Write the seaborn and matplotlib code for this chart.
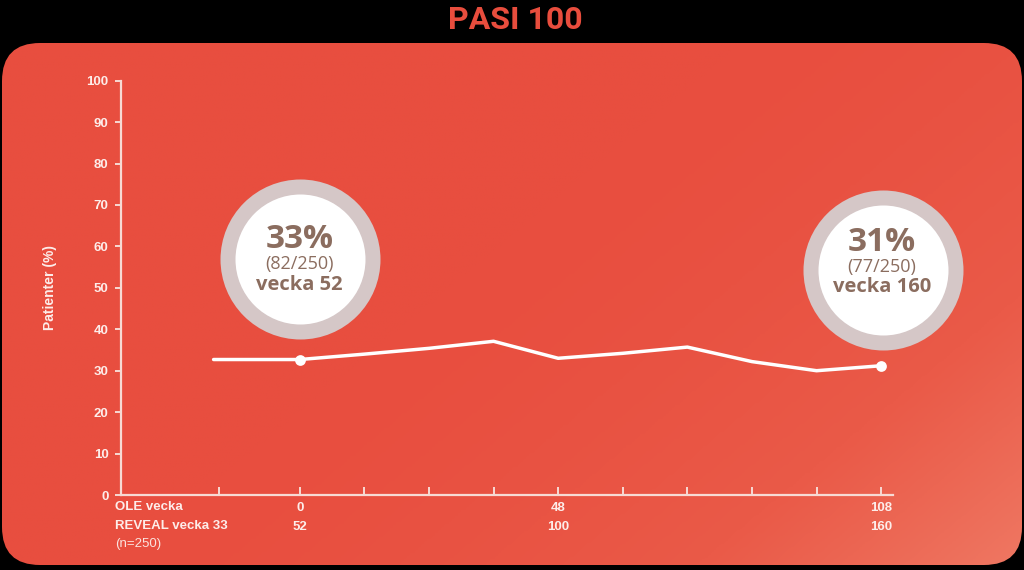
import numpy as np
import matplotlib
matplotlib.use("Agg")
import matplotlib.pyplot as plt
import seaborn as sns
import pandas as pd
from matplotlib.patches import FancyBboxPatch
from matplotlib.colors import LinearSegmentedColormap
from matplotlib.transforms import offset_copy
import logging
logging.getLogger("matplotlib.font_manager").setLevel(logging.ERROR)

# ---------------- data ----------------
ole_weeks = [-16, 0, 12, 24, 36, 48, 60, 72, 84, 96, 108]
pasi100 = [32.7, 32.7, 34.0, 35.4, 37.1, 33.0, 34.2, 35.7, 32.2, 30.0, 31.2]
tick_weeks = [-15, 0, 12, 24, 36, 48, 60, 72, 84, 96, 108]
tick_ole = ["", "0", "", "", "", "48", "", "", "", "", "108"]
tick_reveal = ["", "52", "", "", "", "100", "", "", "", "", "160"]
yticks = list(range(0, 101, 10))
callout_weeks = [0, 108]
callout_values = [32.7, 31.2]
callout_pct = ["33%", "31%"]
callout_n = ["(82/250)", "(77/250)"]
callout_week = ["vecka 52", "vecka 160"]
title = "PASI 100"
ylabel = "Patienter (%)"
row_labels = ["OLE vecka", "REVEAL vecka 33"]
n_label = "(n=250)"

# ---------------- style ----------------
sns.set_theme(style="white")
plt.rcParams["font.family"] = ["Open Sans", "DejaVu Sans"]
lab_font = ["Liberation Sans", "DejaVu Sans"]

W, H = 1024, 570
fig = plt.figure(figsize=(W / 100, H / 100), dpi=100, facecolor="black")

# background rounded panel with gradient
bg = fig.add_axes([0, 0, 1, 1])
bg.set_xlim(0, W)
bg.set_ylim(H, 0)
bg.axis("off")
yy, xx = np.mgrid[0:1:200j, 0:1:360j]
g = np.clip((xx * 0.6 + yy * 0.4 - 0.45) / 0.55, 0, 1) ** 1.6
cmap = LinearSegmentedColormap.from_list("bgc", ["#E84E3F", "#EA5A48", "#EF7863"])
im = bg.imshow(g, cmap=cmap, extent=(0, W, H, 0), aspect="auto", vmin=0, vmax=1)
panel = FancyBboxPatch((2, 43), 1020, 522, boxstyle="round,pad=0,rounding_size=38",
                       transform=bg.transData, facecolor="none", edgecolor="none")
bg.add_patch(panel)
im.set_clip_path(panel)

fig.text(515 / W, 1 - 20 / H, title, ha="center", va="center",
         fontsize=23, fontweight="bold", color="#E84D3D",
         family=["Liberation Sans Narrow", "DejaVu Sans Condensed", "Roboto"])

# main axes
ax = fig.add_axes([121 / W, 1 - 495 / H, (893 - 121) / W, (495 - 80.7) / H])
ax.set_facecolor("none")
spine_c = "#F7DAD4"
df = pd.DataFrame({"week": ole_weeks, "pct": pasi100})
sns.lineplot(data=df, x="week", y="pct", ax=ax, color="white", linewidth=2.5, zorder=3)
cdf = pd.DataFrame({"week": callout_weeks, "pct": callout_values})
sns.scatterplot(data=cdf, x="week", y="pct", ax=ax, color="white", s=60,
                edgecolor="white", linewidth=0, zorder=4)

ax.set_xlim(-33.2, 110.2)
ax.set_ylim(0, 100)
for s in ["top", "right"]:
    ax.spines[s].set_visible(False)
for s in ["left", "bottom"]:
    ax.spines[s].set_color(spine_c)
    ax.spines[s].set_linewidth(1.6)

ax.set_yticks(yticks)
ax.set_yticklabels([str(v) for v in yticks], fontsize=9.5, fontweight="bold",
                   color="#FDEDEA", family=lab_font)
ax.tick_params(axis="y", direction="out", length=4, width=1.4, color=spine_c, pad=5, left=True)
ax.set_xticks(tick_weeks)
ax.set_xticklabels([f"{a}\n{b}" if a else "" for a, b in zip(tick_ole, tick_reveal)],
                   fontsize=9.5, fontweight="bold", color="#FDEDEA", linespacing=1.75,
                   family=lab_font)
ax.tick_params(axis="x", direction="in", length=5.5, width=1.4, color=spine_c, pad=5, bottom=True)
ax.set_xlabel("")
ax.set_ylabel(ylabel, fontsize=10, fontweight="bold", color="#FDEDEA", family=lab_font)
ax.yaxis.set_label_coords((57 - 121) / 772, 0.5)

# row labels below the axis
row_y = [(495 - 507) / 414.3, (495 - 526) / 414.3, (495 - 544.5) / 414.3]
for lab, yv in zip(row_labels, row_y[:2]):
    ax.text((115 - 121) / 772, yv, lab, transform=ax.transAxes, ha="left", va="center",
            fontsize=9.5, fontweight="bold", color="#FDEDEA", family=lab_font)
ax.text((115 - 121) / 772, row_y[2], n_label, transform=ax.transAxes, ha="left", va="center",
        fontsize=9.5, color="#FBE3DE", family=lab_font)

# callout bubbles (offset in pixels from the marked points)
bubble_offsets = [(0, 100.6), (2, 96.0)]
text_offsets = [(0, [119.6, 95.3, 74.3]), (1, [123.3, 98.3, 78.3])]
brown = "#8B6D5F"
for i, (w, v) in enumerate(zip(callout_weeks, callout_values)):
    dx, dy = bubble_offsets[i]
    tr = offset_copy(ax.transData, fig=fig, x=dx, y=dy, units="dots")
    ax.scatter([w], [v], s=(160 * 0.72) ** 2, color="#D5C7C7", linewidth=0,
               transform=tr, zorder=5, clip_on=False)
    ax.scatter([w], [v], s=(130 * 0.72) ** 2, color="white", linewidth=0,
               transform=tr, zorder=6, clip_on=False)
    tdx = text_offsets[i][0]
    offs = text_offsets[i][1]
    for txt, oy, fs, fw in zip([callout_pct[i], callout_n[i], callout_week[i]], offs,
                               [24, 13, 14.5], ["bold", "normal", "bold"]):
        ttr = offset_copy(ax.transData, fig=fig, x=tdx, y=oy, units="dots")
        ax.text(w, v, txt, transform=ttr, ha="center", va="center", fontsize=fs,
                fontweight=fw, color=brown, zorder=7, clip_on=False)

fig.savefig("out.png", dpi=100, facecolor="black")
